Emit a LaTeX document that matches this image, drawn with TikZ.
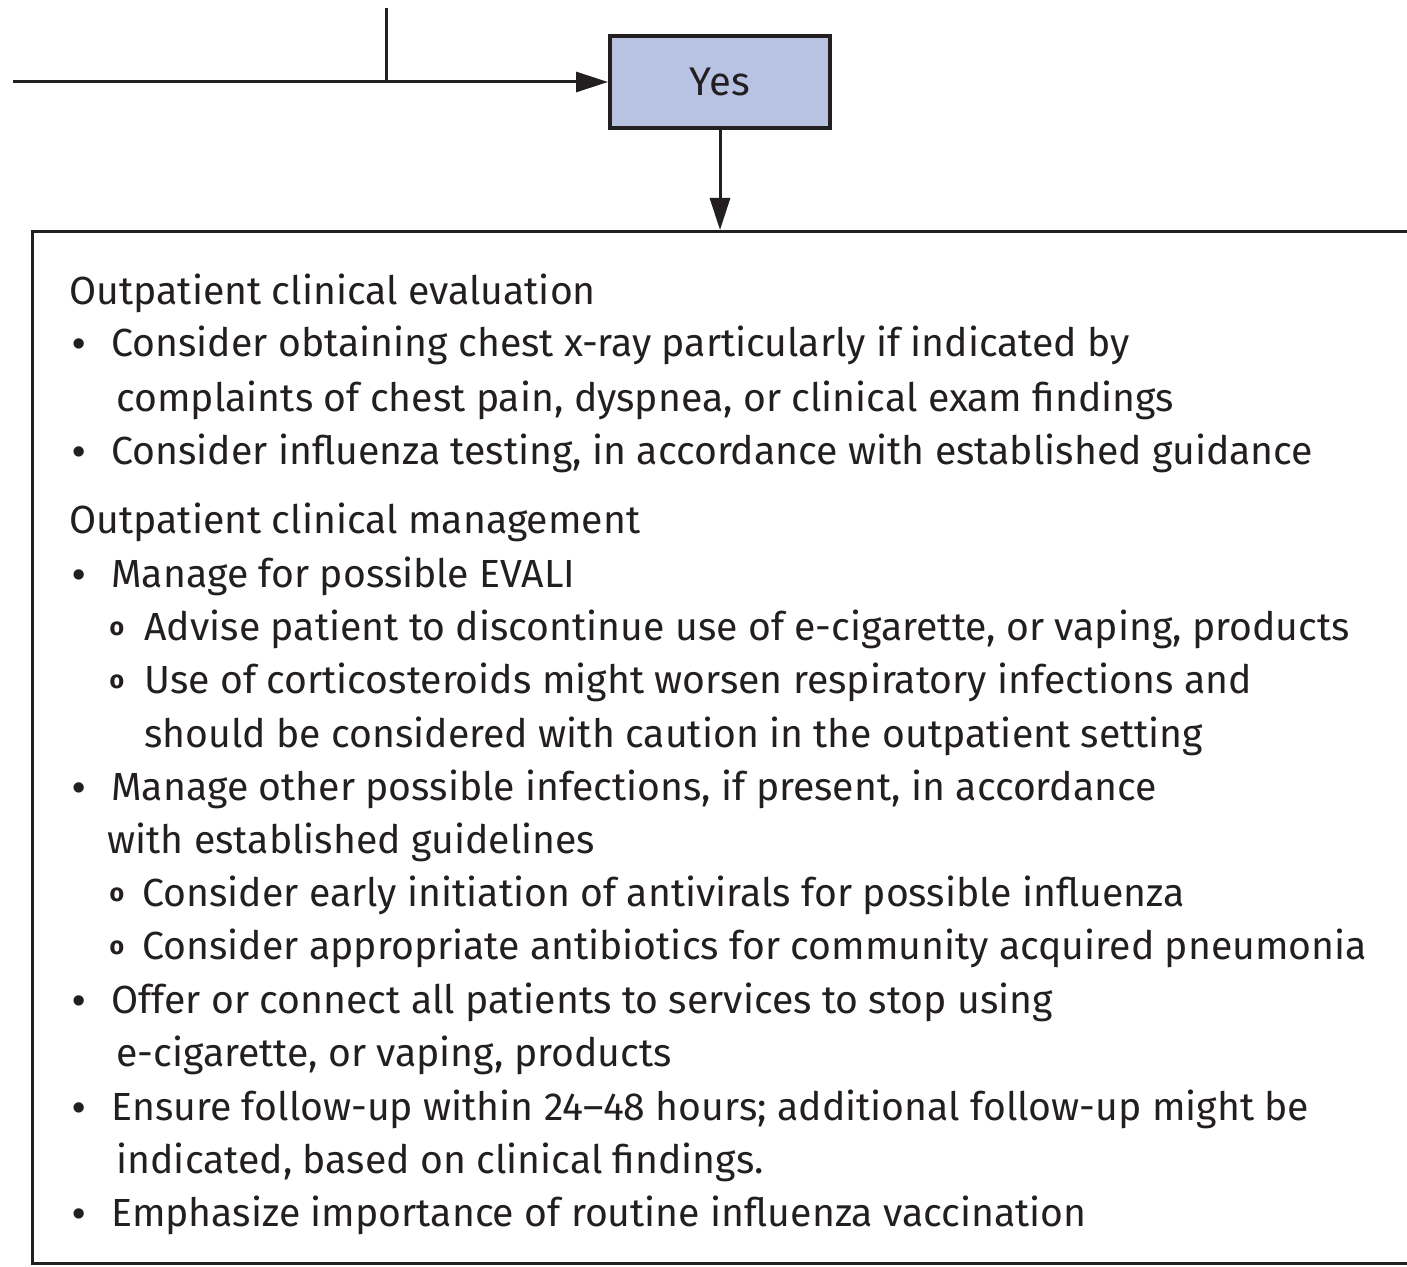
\documentclass[tikz,border=0pt]{standalone}
\usepackage{fontspec}
\setmainfont{Fira Sans}
\newfontfamily\bulletfont{Liberation Sans}
\usetikzlibrary{arrows.meta}
\definecolor{yesblue}{HTML}{B8C3E3}
\definecolor{ink}{HTML}{231F20}
\begin{document}
\begin{tikzpicture}[x=0.5pt,y=-0.5pt,line width=1.5pt,draw=ink,>={Triangle[length=16pt,width=10pt]},
	txt/.style={anchor=base west,inner sep=0pt,text=ink,font=\fontsize{19.6}{22}\selectfont}]
	\useasboundingbox (0,0) rectangle (1407,1267);
	\node (yes) [draw,line width=2pt,fill=yesblue,text=ink,minimum width=110pt,minimum height=46pt,font=\fontsize{20}{24}\selectfont] at (720,82) {Yes};
	\coordinate (from) at (13,82);
	\coordinate (up) at (386,8);
	\coordinate (join) at (up |- from);
	\draw[->] (from) -- (yes.west);
	\draw (up) -- (join);
	\node (care) [draw,anchor=north west,minimum width=705pt,minimum height=516pt] at (31,230) {};
	\draw[->] (yes.south) -- (yes.south |- care.north);
	\foreach \n/\x/\y/\t in {
		1/68/305/{Outpatient clinical evaluation},
		2/110/357/{Consider obtaining chest x-ray particularly if indicated by},
		3/115/411/{complaints of chest pain, dyspnea, or clinical exam findings},
		4/110/464/{Consider influenza testing, in accordance with established guidance},
		5/68/533/{Outpatient clinical management},
		6/110/587/{Manage for possible EVALI},
		7/143/640/{Advise patient to discontinue use of e-cigarette, or vaping, products},
		8/143/693/{Use of corticosteroids might worsen respiratory infections and},
		9/143/747/{should be considered with caution in the outpatient setting},
		10/110/800/{Manage other possible infections, if present, in accordance},
		11/106/853/{with established guidelines},
		12/141/906/{Consider early initiation of antivirals for possible influenza},
		13/141/959/{Consider appropriate antibiotics for community acquired pneumonia},
		14/110/1013/{Offer or connect all patients to services to stop using},
		15/115/1066/{e-cigarette, or vaping, products},
		16/110/1120/{Ensure follow-up within 24–48 hours; additional follow-up might be},
		17/115/1173/{indicated, based on clinical findings.},
		18/110/1226/{Emphasize importance of routine influenza vaccination}}
	{
		\node (l\n) [txt] at (\x,\y) {\t};
	}
	\foreach \y in {357,464,587,800,1013,1120,1226}
	{
		\node (b\y) [txt,font=\bulletfont\fontsize{19}{22}\selectfont] at (71,\y) {•};
	}
	\foreach \y in {640,693,906,959}
	{
		\node (s\y) [txt,font=\bfseries\fontsize{12.5}{16}\selectfont] at (108,\y-5) {o};
	}
\end{tikzpicture}
\end{document}
